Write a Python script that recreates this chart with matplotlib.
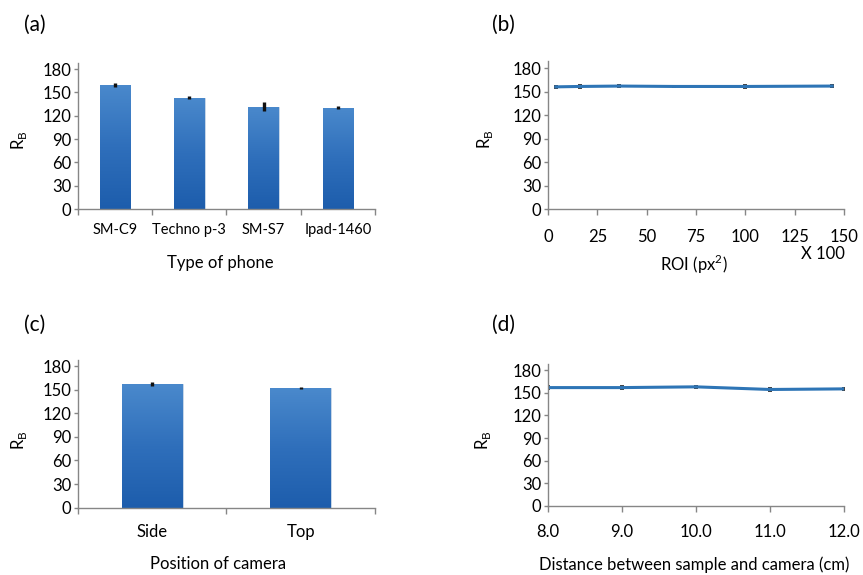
import matplotlib
matplotlib.use('Agg')
import matplotlib.pyplot as plt
import numpy as np

plt.rcParams['font.family'] = ['Lato', 'DejaVu Sans']

# (a) type of phone
phones = ['SM-C9', 'Techno p-3', 'SM-S7', 'Ipad-1460']
phone_rb = [160, 143, 131.5, 130.5]
phone_err = [2.5, 2, 6, 2.5]

# (b) ROI size (x100 px^2)
roi = [4, 16, 36, 64, 100, 144]
roi_rb = [156, 156.5, 157, 156.5, 156.5, 157]
roi_err = [1.5, 1.5, 1, 1, 2, 1]

# (c) camera position
positions = ['Side', 'Top']
pos_rb = [157, 152]
pos_err = [3, 1.5]

# (d) distance sample-camera (cm)
dist = [8.0, 9.0, 10.0, 11.0, 12.0]
dist_rb = [157, 157, 158, 154.5, 155.3]
dist_err = [1.5, 1.5, 1.5, 1.5, 1.5]

yticks = [0, 30, 60, 90, 120, 150, 180]

spine_col = '#868686'
line_col = '#2e75b6'
grad = matplotlib.colors.LinearSegmentedColormap.from_list('g', ['#1d5dac', '#2f6fbb', '#4a89cc'])


def style_axes(ax, ytop):
    ax.set_ylim(0, ytop)
    ax.set_yticks(yticks)
    for s in ['top', 'right']:
        ax.spines[s].set_visible(False)
    for s in ['left', 'bottom']:
        ax.spines[s].set_color(spine_col)
        ax.spines[s].set_linewidth(1)
    ax.tick_params(axis='y', length=3, width=1, color=spine_col, pad=2, labelsize=12)
    ax.set_ylabel('R$_\\mathregular{B}$', fontsize=12)
    ax.yaxis.label.set_va('center')


def gradient_bars(ax, labels, vals, errs, ytop):
    x = np.arange(len(labels))
    bars = ax.bar(x, vals, width=0.41, color='#2e72bd', edgecolor='#d0dceb', linewidth=0.6, zorder=2)
    img = np.linspace(0, 1, 256).reshape(-1, 1)
    for b in bars:
        im = ax.imshow(img, cmap=grad, aspect='auto', origin='lower',
                       extent=[b.get_x(), b.get_x() + b.get_width(), 0, b.get_height()], zorder=2.5)
        im.set_clip_path(b)
    ax.errorbar(x, vals, yerr=errs, fmt='none', ecolor='#111111', elinewidth=2.4, capsize=0, zorder=3)
    ax.set_xlim(-0.5, len(labels) - 0.5)
    ax.set_xticks(np.arange(len(labels) + 1) - 0.5)
    ax.set_xticklabels([])
    ax.set_xticks(x, minor=True)
    ax.set_xticklabels(labels, minor=True)
    ax.tick_params(axis='x', which='major', length=4, width=1, color=spine_col)
    ax.tick_params(axis='x', which='minor', length=0)
    style_axes(ax, ytop)


fig = plt.figure(figsize=(8.63, 5.75), dpi=100)

# (a)
ax1 = fig.add_axes([0.0904, 0.6365, 0.3441, 0.2539])
gradient_bars(ax1, phones, phone_rb, phone_err, 187.7)
ax1.tick_params(axis='x', which='minor', labelsize=10.5, pad=10)
ax1.set_xlabel('Type of phone', fontsize=12)
ax1.xaxis.label.set_va('center')
ax1.xaxis.set_label_coords(0.478, -0.37)
ax1.yaxis.set_label_coords(-0.2, 0.47)

# (b)
ax2 = fig.add_axes([0.635, 0.636, 0.343, 0.258])
ax2.errorbar(roi, roi_rb, yerr=roi_err, color=line_col, lw=2.2, ecolor='#333333',
             elinewidth=1.3, capsize=1.5, capthick=1.3)
ax2.set_xlim(0, 150)
ax2.set_xticks([0, 25, 50, 75, 100, 125, 150])
ax2.tick_params(axis='x', length=4, width=1, color=spine_col, pad=10, labelsize=12)
style_axes(ax2, 189)
ax2.set_xlabel('ROI (px$^\\mathregular{2}$)', fontsize=12)
ax2.xaxis.label.set_va('center')
ax2.xaxis.set_label_coords(0.493, -0.375)
ax2.yaxis.set_label_coords(-0.213, 0.47)
ax2.text(0.93, -0.30, 'X 100', transform=ax2.transAxes, ha='center', va='center', fontsize=12)

# (c)
ax3 = fig.add_axes([0.0904, 0.117, 0.3441, 0.2574])
gradient_bars(ax3, positions, pos_rb, pos_err, 188)
ax3.tick_params(axis='x', which='minor', labelsize=12, pad=12)
ax3.set_xlabel('Position of camera', fontsize=12)
ax3.xaxis.label.set_va('center')
ax3.xaxis.set_label_coords(0.47, -0.38)
ax3.yaxis.set_label_coords(-0.2, 0.457)

# (d)
ax4 = fig.add_axes([0.635, 0.12, 0.343, 0.2475])
ax4.errorbar(dist, dist_rb, yerr=dist_err, color=line_col, lw=2.2, ecolor='#333333',
             elinewidth=1.3, capsize=1.5, capthick=1.3)
ax4.set_xlim(8, 12)
ax4.set_xticks(dist)
ax4.set_xticklabels(['%.1f' % d for d in dist])
ax4.tick_params(axis='x', length=4, width=1, color=spine_col, pad=9, labelsize=12)
style_axes(ax4, 188.7)
ax4.set_xlabel('Distance between sample and camera (cm)', fontsize=12)
ax4.xaxis.label.set_va('center')
ax4.xaxis.set_label_coords(0.493, -0.41)
ax4.yaxis.set_label_coords(-0.218, 0.46)

# panel letters
fig.text(35 / 863, 1 - 25 / 575, '(a)', ha='center', va='center', fontsize=15)
fig.text(503 / 863, 1 - 25 / 575, '(b)', ha='center', va='center', fontsize=15)
fig.text(35 / 863, 1 - 325 / 575, '(c)', ha='center', va='center', fontsize=15)
fig.text(503 / 863, 1 - 325 / 575, '(d)', ha='center', va='center', fontsize=15)

fig.savefig('out.png', dpi=100, facecolor='white')
